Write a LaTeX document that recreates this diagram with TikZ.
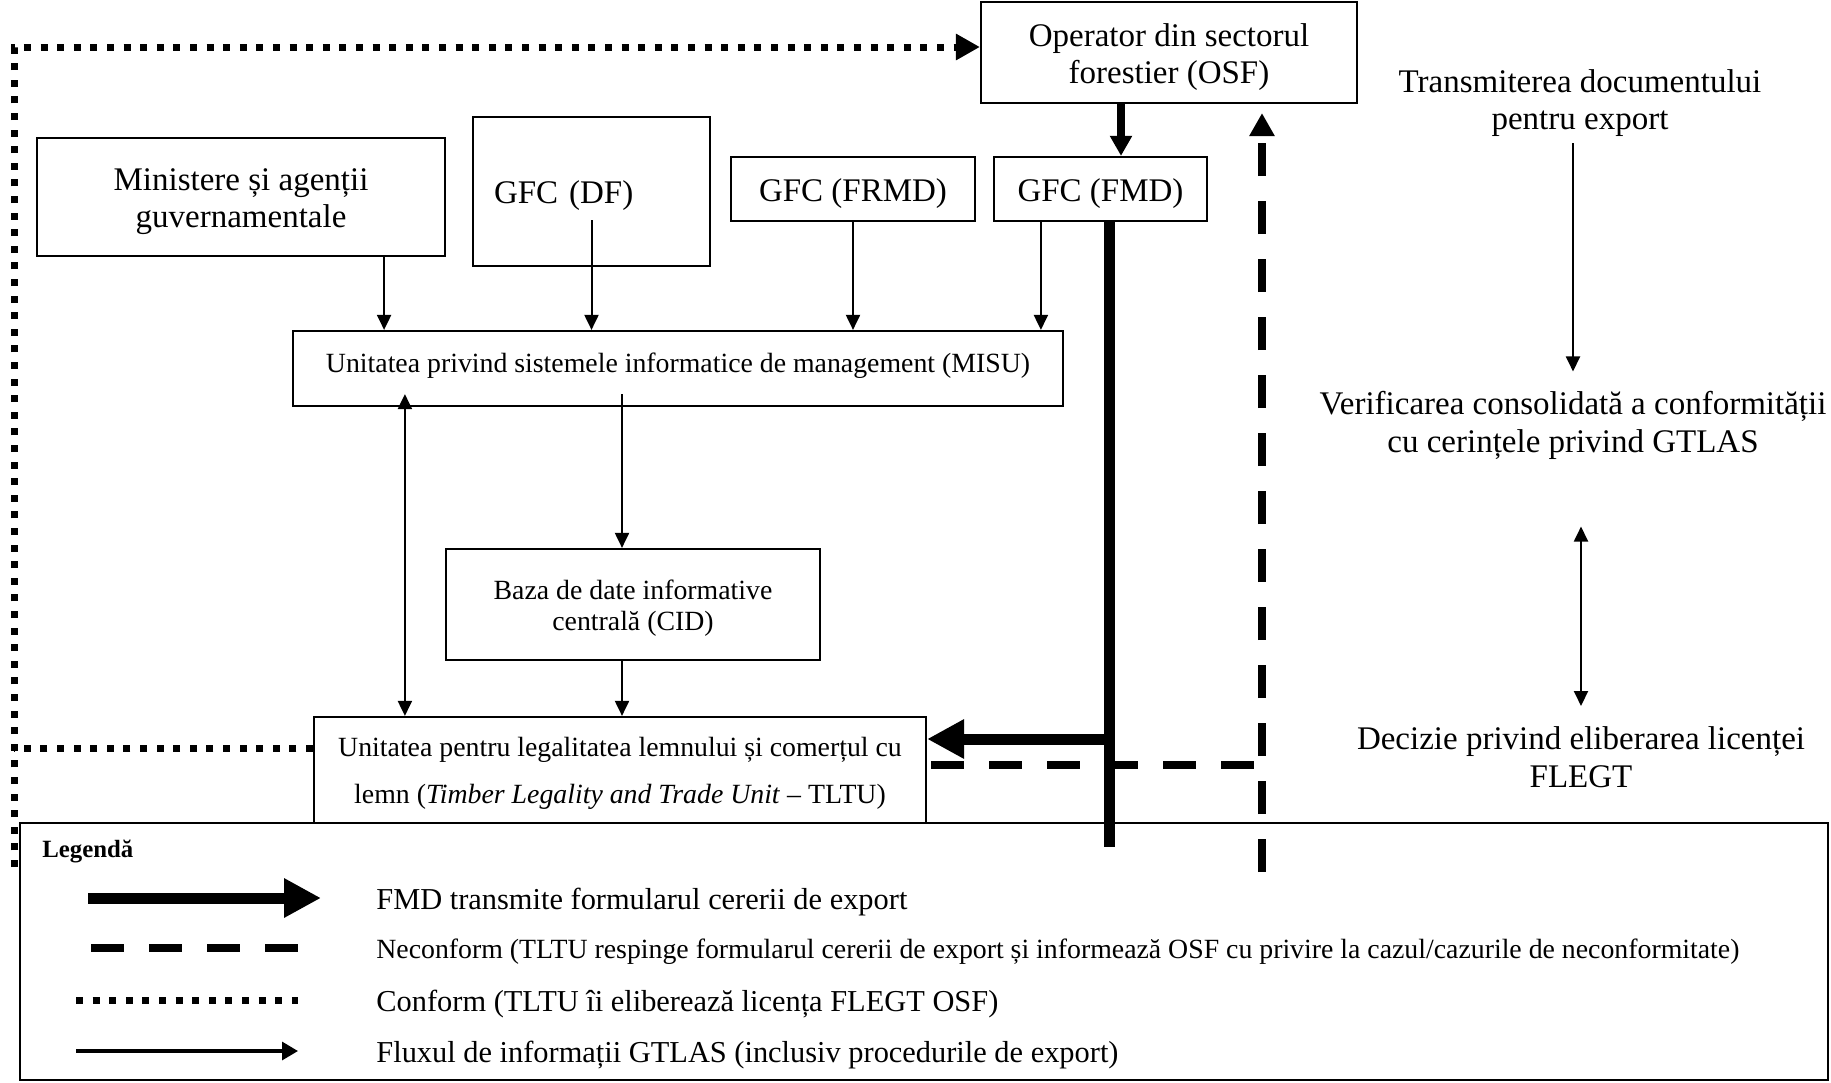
\documentclass[tikz,border=0pt]{standalone}
\usepackage{fontspec}
\setmainfont{Liberation Serif}
\usetikzlibrary{arrows.meta,calc}
\newcommand{\bigfont}{\fontsize{16.5}{18.5}\selectfont}
\newcommand{\txtfont}{\fontsize{16.5}{19}\selectfont}
\newcommand{\smallfont}{\fontsize{13.9}{15.5}\selectfont}
\newcommand{\legfont}{\fontsize{15.2}{18}\selectfont}
\newcommand{\topstrut}{\rule{0pt}{0.95em}}
\newcommand{\botstrut}{\rule[-0.45em]{0pt}{0.45em}}

\begin{document}
\begin{tikzpicture}[
  x=0.5pt, y=-0.5pt,
  box/.style={draw, line width=1.1pt, inner sep=0pt, align=center, font=\bigfont},
  txt/.style={align=center, inner sep=0pt, font=\txtfont},
  legtxt/.style={anchor=west, inner sep=0pt, font=\legfont, execute at begin node=\topstrut},
  info/.style={-{Triangle[length=7.5pt,width=7pt]}, line width=1pt},
  both/.style={{Triangle[length=7.5pt,width=7pt]}-{Triangle[length=7.5pt,width=7pt]}, line width=1pt},
  legarrow/.style={-{Triangle[length=8pt,width=9pt]}, line width=1.6pt},
  osfarrow/.style={-{Triangle[length=10pt,width=10.5pt]}, line width=4pt},
  fmdline/.style={line width=5.5pt},
  fmdarrow/.style={-{Triangle[length=18.5pt,width=18.5pt]}, line width=5.5pt},
  neconf/.style={line width=4.2pt, dash pattern=on 16.5pt off 12.5pt},
  conf/.style={line width=3.5pt, dash pattern=on 3.5pt off 4.8pt},
]
\useasboundingbox (0,0) rectangle (1831,1082);

\node[box, minimum width=188pt, minimum height=50.5pt] (osf) at (1169,52.5) {\topstrut Operator din sectorul\\forestier (OSF)};
\node[box, minimum width=204pt, minimum height=59pt] (min) at (241,197) {\topstrut Ministere și agenții\\guvernamentale};
\node[box, text width=97.5pt, inner xsep=10.5pt, align=left, minimum height=74.5pt] (df) at (591.5,191.5) {\topstrut GFC (DF)};
\node[box, minimum width=122pt, minimum height=32pt] (frmd) at (853,189) {\topstrut GFC (FRMD)};
\node[box, minimum width=106.5pt, minimum height=32pt] (fmd) at (1100.5,189) {\topstrut GFC (FMD)};
\node[box, font=\smallfont, minimum width=385pt, minimum height=37.5pt] (misu) at (678,368.5) {Unitatea privind sistemele informatice de management (MISU)\botstrut};
\node[box, font=\smallfont, minimum width=187pt, minimum height=55.5pt] (cid) at (633,604.5) {\topstrut Baza de date informative\\centrală (CID)};
\node[box, font=\fontsize{13.9}{23.5}\selectfont, minimum width=306pt, minimum height=53pt] (tltu) at (620,770) {\topstrut Unitatea pentru legalitatea lemnului și comerțul cu\\lemn (\textit{Timber Legality and Trade Unit} – TLTU)};

\node[txt, font=\bigfont] (trans) at (1580,99) {\topstrut Transmiterea documentului\\pentru export};
\node[txt] (verif) at (1573,425) {Verificarea consolidată a conformității\\cu cerințele privind GTLAS};
\node[txt] (dec) at (1581,757) {Decizie privind eliberarea licenței\\FLEGT};

\node[draw, line width=1.1pt, inner sep=0pt, minimum width=904pt, minimum height=128.5pt] (leg) at (924,951.5) {};
\node[anchor=west, inner sep=0pt, font=\bfseries\fontsize{12.4}{14}\selectfont] (legtitle) at (42,851) {Legendă};
\node[legtxt] (l1) at (376,898) {FMD transmite formularul cererii de export};
\node[legtxt, font=\smallfont] (l2) at (376,948) {Neconform (TLTU respinge formularul cererii de export și informează OSF cu privire la cazul/cazurile de neconformitate)};
\node[legtxt] (l3) at (376,1000) {Conform (TLTU îi eliberează licența FLEGT OSF)};
\node[legtxt] (l4) at (376,1051) {Fluxul de informații GTLAS (inclusiv procedurile de export)};

\coordinate (minout) at ([xshift=-31pt]min.south east);
\coordinate (dfout) at ([yshift=-14.25pt]df.center);
\coordinate (fmdout) at ([xshift=24pt]fmd.south west);
\coordinate (osfout) at ([xshift=10.25pt]fmd.north);
\coordinate (misuin) at ([yshift=6.5pt]misu.south);
\coordinate (cidtop) at ([xshift=-5.5pt]cid.north);
\coordinate (bidi) at ([xshift=46pt]tltu.north west);
\coordinate (fmdfoot) at (1109,847);
\coordinate (fmdturn) at (1109,739);
\coordinate (negfoot) at (1262,872);
\coordinate (negturn) at (1257,765);
\coordinate (confoot) at (14,867);
\coordinate (conturn) at (14,47);
\coordinate (conmid) at (14,748);

\draw[info] (minout) -- (minout |- misu.north);
\draw[info] (dfout) -- (dfout |- misu.north);
\draw[info] (frmd.south) -- (frmd.south |- misu.north);
\draw[info] (fmdout) -- (fmdout |- misu.north);
\draw[osfarrow] (osfout |- osf.south) -- (osfout);
\draw[info] (cidtop |- misuin) -- (cidtop);
\draw[info] (cidtop |- cid.south) -- (cidtop |- tltu.north);
\draw[both] (bidi) -- (bidi |- misuin);

\draw[fmdline] (fmdfoot |- fmd.south) -- (fmdfoot);
\draw[fmdarrow] (fmdturn) -- (fmdturn -| tltu.east);
\draw[neconf, -{Triangle[length=11.5pt,width=12pt]}, shorten >=4.5pt] (negfoot) -- (negfoot |- osf.south);
\draw[neconf, shorten <=2pt] (negturn -| tltu.east) -- (negturn);
\draw[conf, -{Triangle[length=12pt,width=12.5pt]}] (confoot) -- (conturn) -- (conturn -| osf.west);
\draw[conf] (conmid -| tltu.west) -- (conmid);

\draw[info, shorten <=3.1pt, shorten >=9.5pt] (trans.south -| verif.north) -- (verif.north);
\draw[both, shorten <=33.5pt, shorten >=10pt] (verif.south -| dec.north) -- (dec.north);

\draw[fmdarrow] ([xshift=-144pt]l1.west) -- ([xshift=-27.5pt]l1.west);
\draw[neconf] ([xshift=-142.5pt]l2.west) -- ([xshift=-39pt]l2.west);
\draw[conf] ([xshift=-150pt]l3.west) -- ([xshift=-39pt]l3.west);
\draw[legarrow] ([xshift=-150pt]l4.west) -- ([xshift=-39pt]l4.west);
\end{tikzpicture}
\end{document}
